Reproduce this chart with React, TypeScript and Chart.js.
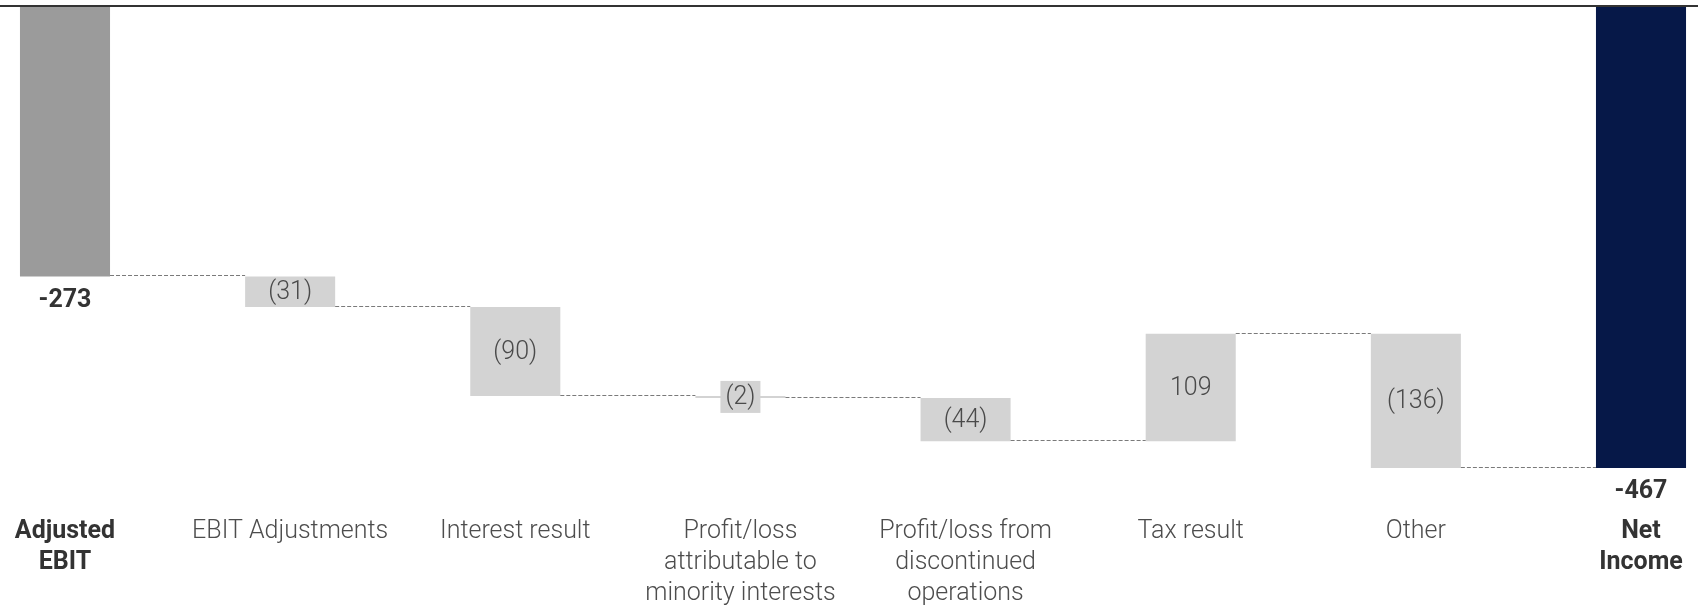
import { useEffect, useRef } from 'react';
import { Chart, registerables } from 'chart.js';

Chart.register(...registerables);

const categories: (string | string[])[] = [
  ['Adjusted', 'EBIT'],
  'EBIT Adjustments',
  'Interest result',
  ['Profit/loss', 'attributable to', 'minority interests'],
  ['Profit/loss from', 'discontinued', 'operations'],
  'Tax result',
  'Other',
  ['Net', 'Income'],
];
const startTotal = -273;
const changes = [-31, -90, -2, -44, 109, -136];
const endTotal = -467;

const startColor = '#9b9b9b';
const changeColor = '#d3d3d3';
const endColor = '#061848';

const FONT = 'Roboto, "Liberation Sans", sans-serif';

function buildRanges(): [number, number][] {
  const r: [number, number][] = [[0, startTotal]];
  let running = startTotal;
  for (const c of changes) {
    r.push([running, running + c]);
    running += c;
  }
  r.push([0, endTotal]);
  return r;
}
const ranges = buildRanges();
const labelsText = [
  String(startTotal),
  ...changes.map((v) => (v < 0 ? `(${Math.abs(v)})` : `${v}`)),
  String(endTotal),
];
const colors = [startColor, ...changes.map(() => changeColor), endColor];
const isTotal = (i: number) => i === 0 || i === categories.length - 1;

const waterfallPlugin = {
  id: 'waterfallDecor',
  afterDatasetsDraw(chart: any) {
    const ctx = chart.ctx as CanvasRenderingContext2D;
    const meta = chart.getDatasetMeta(0);
    const ys = chart.scales.y;
    ctx.save();
    // connectors
    ctx.setLineDash([4, 2]);
    ctx.strokeStyle = '#7a7a7a';
    ctx.lineWidth = 1;
    for (let i = 0; i < meta.data.length - 1; i++) {
      const a = meta.data[i].getProps(['x', 'width'], true);
      const b = meta.data[i + 1].getProps(['x', 'width'], true);
      const py = Math.round(ys.getPixelForValue(ranges[i][1])) - 0.5;
      ctx.beginPath();
      ctx.moveTo(a.x + a.width / 2, py);
      ctx.lineTo(b.x - b.width / 2, py);
      ctx.stroke();
    }
    ctx.setLineDash([]);
    // value labels
    for (let i = 0; i < meta.data.length; i++) {
      const el = meta.data[i].getProps(['x', 'y', 'base', 'width'], true);
      const text = labelsText[i];
      if (isTotal(i)) {
        ctx.font = `bold 25px ${FONT}`;
        ctx.fillStyle = '#333333';
        ctx.textAlign = 'center';
        ctx.textBaseline = 'middle';
        const bottom = Math.max(el.y, el.base);
        ctx.fillText(text, el.x, bottom + 24);
      } else {
        ctx.font = `300 25px ${FONT}`;
        const cy = (el.y + el.base) / 2;
        const h = Math.abs(el.base - el.y);
        const tw = ctx.measureText(text).width;
        if (h < 20) {
          ctx.fillStyle = colors[i];
          ctx.fillRect(el.x - tw / 2 - 5, cy - 16, tw + 10, 32);
        }
        ctx.fillStyle = '#4a4a4a';
        ctx.textAlign = 'center';
        ctx.textBaseline = 'middle';
        ctx.fillText(text, el.x, cy + 1);
      }
    }
    // zero line across the top
    const y0 = ys.getPixelForValue(0);
    ctx.strokeStyle = '#333333';
    ctx.lineWidth = 2;
    ctx.beginPath();
    ctx.moveTo(0, y0 - 1);
    ctx.lineTo(chart.width, y0 - 1);
    ctx.stroke();
    ctx.restore();
  },
};

export default function App() {
  const ref = useRef<HTMLCanvasElement | null>(null);
  useEffect(() => {
    if (!ref.current) return;
    const chart = new Chart(ref.current, {
      type: 'bar',
      data: {
        labels: categories as any,
        datasets: [
          {
            data: ranges as any,
            backgroundColor: colors,
            borderWidth: 0,
            categoryPercentage: 0.8,
            barPercentage: 0.5,
            clip: false as any,
          },
        ],
      },
      options: {
        animation: false,
        responsive: true,
        maintainAspectRatio: false,
        layout: { padding: { left: 65, right: 57, top: 7, bottom: 0 } },
        plugins: { legend: { display: false }, tooltip: { enabled: false } },
        scales: {
          x: {
            offset: false,
            grid: { display: false, drawTicks: false },
            border: { display: false },
            afterFit: (s: any) => {
              s.paddingLeft = 0;
              s.paddingRight = 0;
              s.height = 140;
            },
            ticks: {
              autoSkip: false,
              maxRotation: 0,
              minRotation: 0,
              padding: 48,
              color: (c: any) => (isTotal(c.index) ? '#333333' : '#4d4d4d'),
              font: (c: any) => ({
                family: FONT,
                size: 25,
                weight: isTotal(c.index) ? 'bold' : '300',
                lineHeight: 1.24,
              }),
            },
          },
          y: {
            display: false,
            min: Math.min(...ranges.flat()),
            max: 0,
          },
        },
      },
      plugins: [waterfallPlugin],
    });
    return () => chart.destroy();
  }, []);
  return (
    <div style={{ position: 'fixed', left: 0, top: 0, width: '1698px', height: '608px' }}>
      <canvas ref={ref} />
    </div>
  );
}
